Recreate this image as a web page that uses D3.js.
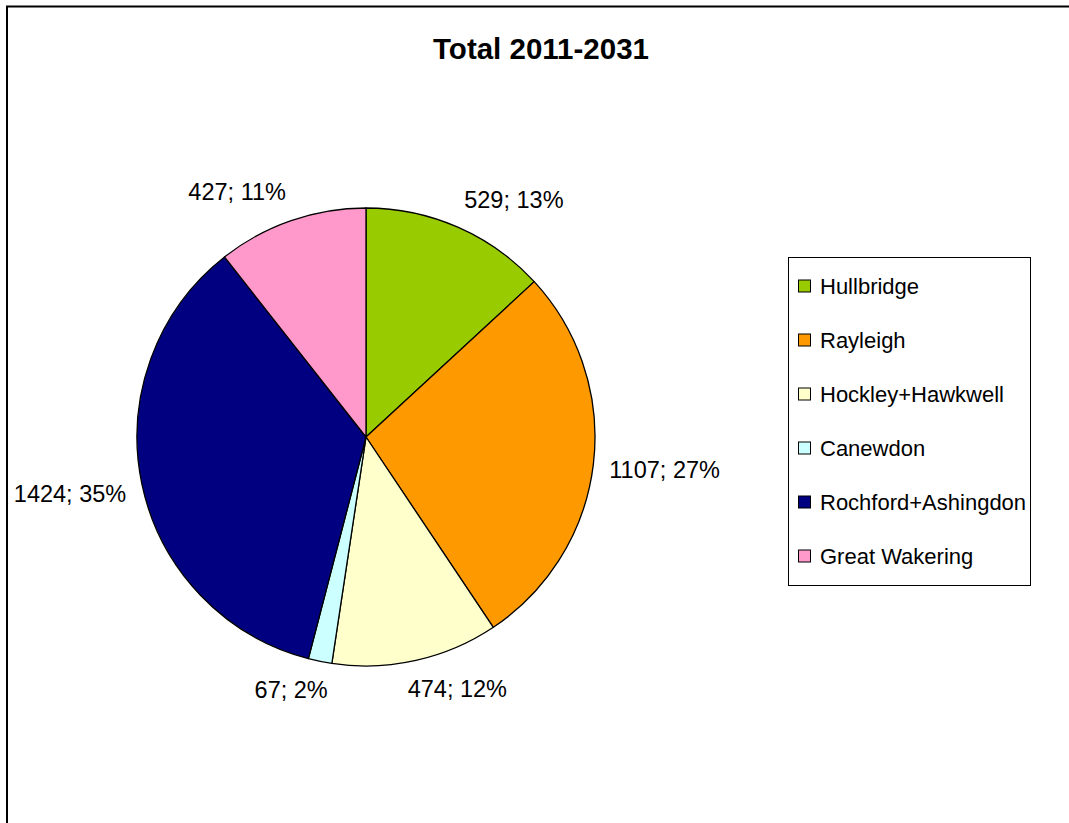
<!DOCTYPE html>
<meta charset="utf-8">
<style>
html, body { margin: 0; background: #fff; overflow: hidden; }
svg { display: block; }
text { font-family: Arial, "Liberation Sans", sans-serif; fill: #000; }
</style>
<svg width="1069" height="823"></svg>
<script src="https://d3js.org/d3.v7.min.js"></script>
<script>

var areas = ["Hullbridge", "Rayleigh", "Hockley+Hawkwell", "Canewdon", "Rochford+Ashingdon", "Great Wakering"];
var dwellings = [529, 1107, 474, 67, 1424, 427];
var colours = ["#99cc00", "#ff9900", "#ffffcc", "#ccffff", "#000080", "#ff99cc"];
var title = "Total 2011-2031";

var svg = d3.select("svg");

// chart frame: only the top and left edges show in the picture
svg.append("path")
    .attr("d", "M7,823V6.5H1069")
    .attr("fill", "none")
    .attr("stroke", "#000")
    .attr("stroke-width", 2);

svg.append("text")
    .attr("x", 541).attr("y", 59)
    .attr("text-anchor", "middle")
    .style("font-size", "29.5px")
    .style("font-weight", "bold")
    .text(title);

var cx = 366, cy = 437, r = 229;
var total = d3.sum(dwellings);

var pie = d3.pie().sort(null).value(function(d) { return d; });
var arc = d3.arc().innerRadius(0).outerRadius(r);
var color = d3.scaleOrdinal().domain(areas).range(colours);

var slices = pie(dwellings).map(function(d, i) { d.name = areas[i]; return d; });

var g = svg.append("g").attr("transform", "translate(" + cx + "," + cy + ")");

g.selectAll(".slice")
  .data(slices)
  .enter().append("path")
    .attr("class", "slice")
    .attr("d", arc)
    .attr("fill", function(d) { return color(d.name); })
    .attr("stroke", "#000")
    .attr("stroke-width", 1.3)
    .attr("stroke-linejoin", "round");

// data labels, placed just outside the rim
var clamp = function(v) { return Math.max(-1, Math.min(1, v)); };
var labelR = r + 16;

g.selectAll(".label")
  .data(slices)
  .enter().append("text")
    .attr("class", "label")
    .style("font-size", "23.5px")
    .attr("text-anchor", "middle")
    .text(function(d) { return d.data + "; " + Math.round(d.data / total * 100) + "%"; })
    .each(function(d) {
      var a = (d.startAngle + d.endAngle) / 2,
          s = Math.sin(a), c = Math.cos(a),
          w = this.getComputedTextLength(),
          px = labelR * s, py = -labelR * c;
      d3.select(this)
        .attr("x", px + w / 2 * clamp(s * 3.5))
        .attr("y", py + 8 - 13 * clamp(c * 2.5));
    });

// legend
var legend = svg.append("g");
legend.append("rect")
    .attr("x", 788.5).attr("y", 257.5)
    .attr("width", 242).attr("height", 328)
    .attr("fill", "#fff")
    .attr("stroke", "#000")
    .attr("stroke-width", 1);

var ly = d3.scaleBand().domain(areas).range([259.5, 583.5]);

var item = legend.selectAll(".item")
  .data(areas)
  .enter().append("g")
    .attr("class", "item")
    .attr("transform", function(d) { return "translate(0," + (ly(d) + ly.bandwidth() / 2) + ")"; });

item.append("rect")
    .attr("x", 798.5).attr("y", -6.5)
    .attr("width", 12).attr("height", 12)
    .attr("fill", function(d) { return color(d); })
    .attr("stroke", "#000")
    .attr("stroke-width", 1);

item.append("text")
    .attr("x", 820).attr("y", 7.5)
    .style("font-size", "22px")
    .text(function(d) { return d; });

</script>
